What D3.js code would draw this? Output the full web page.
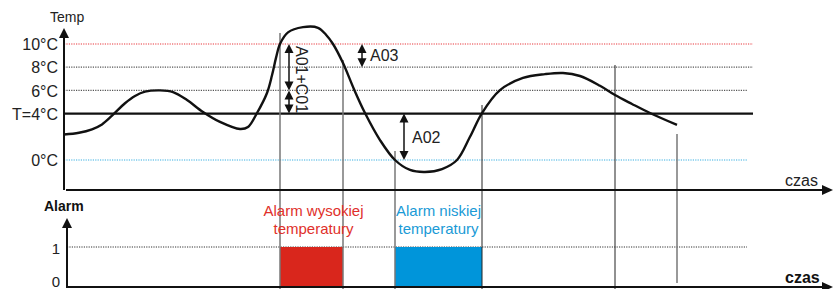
<!DOCTYPE html>
<html><head><meta charset="utf-8">
<script src="https://cdn.jsdelivr.net/npm/d3@7"></script>
<style>html,body{margin:0;padding:0;background:#fff;}svg{display:block;font-family:"Liberation Sans",Arial,sans-serif;}</style>
</head><body>
<svg id="c" width="834" height="289"></svg>
<script>
// ---- data ----
const tempTicks = [10, 8, 6, 4, 0];
const tempTickLabels = ["10°C", "8°C", "6°C", "T=4°C", "0°C"];
const curveTime = [0, 15, 28, 38, 48, 61, 71, 81, 96, 109, 123, 139, 156, 176, 184, 193, 203, 208, 212, 216, 224, 239, 254, 262, 269, 279, 290, 301, 316, 331, 346, 361, 378, 393, 406, 418, 436, 459, 481, 499, 516, 536, 551, 568, 586, 613];
const curveTemp = [2.2, 2.35, 2.65, 3.07, 3.82, 4.89, 5.52, 5.89, 6.0, 5.86, 5.17, 4.14, 3.28, 2.67, 2.84, 4.05, 5.78, 7.3, 8.8, 10.0, 11.0, 11.45, 11.4, 10.8, 10.0, 8.36, 6.1, 4.05, 1.72, 0, -0.86, -1.03, -0.78, 0, 2.0, 4.05, 6.03, 7.07, 7.4, 7.5, 7.24, 6.4, 5.6, 4.83, 4.05, 3.02];
const markerTime = [216, 279, 331, 418, 551, 613];
const markerTopTemp = [10.95, 8.62, 0.78, 4.74, 8.19, 2.24];
const alarmHigh = [216, 279];
const alarmLow = [331, 418];
const alarmTicks = [1, 0];
const arrowDefs = [ // [time, fromTemp, toTemp, label]
  [225, 10, 6, ""],
  [225, 6, 4, ""],
  [298, 10, 8, "A03"],
  [340, 4, 0, "A02"]
];

// ---- scales ----
const svg = d3.select("#c");
const x = d3.scaleLinear().domain([0, 770]).range([64, 834]);
const yT = d3.scaleLinear().domain([0, 10]).range([160, 44]);
const yA = d3.scaleLinear().domain([0, 1]).range([287, 247]);

const refStyle = {
  10: {c: "#e8383c", end: 689},
  8: {c: "#555", end: 689},
  6: {c: "#555", end: 683},
  0: {c: "#38aee2", end: 683}
};

// reference dotted lines
[10, 8, 6, 0].forEach(v => {
  svg.append("line").attr("x1", x(0)).attr("x2", x(refStyle[v].end))
    .attr("y1", yT(v)).attr("y2", yT(v))
    .attr("stroke", refStyle[v].c).attr("stroke-width", 1.2)
    .attr("stroke-dasharray", "1.2,1.2");
});
// T=4 solid
svg.append("line").attr("x1", x(0)).attr("x2", x(689))
  .attr("y1", yT(4)).attr("y2", yT(4)).attr("stroke", "#111").attr("stroke-width", 2.2);

// alarm level 1 dotted
svg.append("line").attr("x1", x(3)).attr("x2", x(683))
  .attr("y1", yA(1)).attr("y2", yA(1))
  .attr("stroke", "#333").attr("stroke-width", 1).attr("stroke-dasharray", "1.2,1.2");

// alarm rects
svg.append("rect").attr("x", x(alarmHigh[0])).attr("y", yA(1))
  .attr("width", x(alarmHigh[1]) - x(alarmHigh[0])).attr("height", yA(0) - yA(1))
  .attr("fill", "#d9261c");
svg.append("rect").attr("x", x(alarmLow[0])).attr("y", yA(1))
  .attr("width", x(alarmLow[1]) - x(alarmLow[0])).attr("height", yA(0) - yA(1))
  .attr("fill", "#0095da");

// vertical marker lines
const markerColor = ["#777", "#777", "#777", "#222", "#222", "#777"];
const markerBottom = [289, 289, 289, 289, 289, 283];
markerTime.forEach((t, i) => {
  svg.append("line").attr("x1", x(t)).attr("x2", x(t))
    .attr("y1", yT(markerTopTemp[i])).attr("y2", markerBottom[i])
    .attr("stroke", markerColor[i]).attr("stroke-width", i === 3 || i === 4 ? 1 : 1.5);
});

// temperature curve
const pts = curveTime.map((t, i) => [t, curveTemp[i]]);
svg.append("path").datum(pts)
  .attr("d", d3.line().x(d => x(d[0])).y(d => yT(d[1])).curve(d3.curveCatmullRom.alpha(0.5)))
  .attr("fill", "none").attr("stroke", "#111").attr("stroke-width", 2.4);

// axes lines with arrows
function arrowHead(xt, yt, dir, len, half) {
  let p;
  if (dir === "up") p = [[xt, yt], [xt - half, yt + len], [xt + half, yt + len]];
  else if (dir === "down") p = [[xt, yt], [xt - half, yt - len], [xt + half, yt - len]];
  else p = [[xt, yt], [xt - len, yt - half], [xt - len, yt + half]];
  svg.append("path").attr("d", "M" + p.join("L") + "Z").attr("fill", "#111");
}
// top chart
svg.append("line").attr("x1", 64).attr("x2", 64).attr("y1", 36).attr("y2", 190).attr("stroke", "#111").attr("stroke-width", 2);
arrowHead(64, 28, "up", 10, 5);
svg.append("line").attr("x1", 66).attr("x2", 823).attr("y1", 190).attr("y2", 190).attr("stroke", "#111").attr("stroke-width", 2);
arrowHead(833, 190, "right", 11, 5);
// bottom chart
svg.append("line").attr("x1", 67).attr("x2", 67).attr("y1", 226).attr("y2", 288).attr("stroke", "#111").attr("stroke-width", 2);
arrowHead(67, 218, "up", 10, 5);
svg.append("line").attr("x1", 67).attr("x2", 823).attr("y1", 287).attr("y2", 287).attr("stroke", "#111").attr("stroke-width", 2);
arrowHead(833, 287, "right", 11, 5);

// y axis tick labels (temperature)
const axT = d3.axisLeft(yT).tickValues(tempTicks).tickSize(0).tickPadding(0)
  .tickFormat((d, i) => tempTickLabels[i]);
const gT = svg.append("g").attr("transform", "translate(58,0)").call(axT);
gT.select(".domain").remove();
gT.selectAll("text").attr("font-size", 16).attr("fill", "#222").attr("font-family", "Liberation Sans, Arial, sans-serif").attr("dy", "0.36em");

const axA = d3.axisLeft(yA).tickValues(alarmTicks).tickSize(0).tickPadding(0).tickFormat(d3.format("d"));
const gA = svg.append("g").attr("transform", "translate(60,0)").call(axA);
gA.select(".domain").remove();
gA.selectAll("text").attr("font-size", 15).attr("fill", "#222").attr("font-family", "Liberation Sans, Arial, sans-serif")
  .attr("dy", d => d === 0 ? "-0.05em" : "0.45em");

// double arrows
arrowDefs.forEach(a => {
  const xp = x(a[0]);
  const y1 = yT(a[1]), y2 = yT(a[2]);
  const top = Math.min(y1, y2), bot = Math.max(y1, y2);
  svg.append("line").attr("x1", xp).attr("x2", xp).attr("y1", top + 6).attr("y2", bot - 6)
    .attr("stroke", "#111").attr("stroke-width", 1.5);
  arrowHead(xp, top, "up", 9, 4.5);
  arrowHead(xp, bot, "down", 9, 4.5);
  if (a[3]) {
    svg.append("text").attr("x", xp + 8).attr("y", (top + bot) / 2).attr("dy", "0.36em")
      .attr("font-size", 16).attr("fill", "#222").text(a[3]);
  }
});
// rotated label A01+C01
svg.append("text").attr("transform", `translate(${x(232)},${yT(10) + 2}) rotate(90)`)
  .attr("font-size", 16).attr("fill", "#222").text("A01+C01");

// titles
svg.append("text").attr("x", 50).attr("y", 22).attr("font-size", 14).attr("fill", "#222").text("Temp");
svg.append("text").attr("x", 785).attr("y", 186).attr("font-size", 16).attr("fill", "#222").text("czas");
svg.append("text").attr("x", 44).attr("y", 211).attr("font-size", 14).attr("font-weight", "bold").attr("fill", "#111").text("Alarm");
svg.append("text").attr("x", 785).attr("y", 283).attr("font-size", 16).attr("font-weight", "bold").attr("fill", "#111").text("czas");

// alarm labels
const hiC = (x(alarmHigh[0]) + x(alarmHigh[1])) / 2;
const loC = (x(alarmLow[0]) + x(alarmLow[1])) / 2;
[["Alarm wysokiej", 216], ["temperatury", 234]].forEach(l => {
  svg.append("text").attr("x", hiC + 2).attr("y", l[1]).attr("text-anchor", "middle")
    .attr("font-size", 15).attr("fill", "#e0302a").text(l[0]);
});
[["Alarm niskiej", 216], ["temperatury", 234]].forEach(l => {
  svg.append("text").attr("x", loC).attr("y", l[1]).attr("text-anchor", "middle")
    .attr("font-size", 15).attr("fill", "#1a9ad6").text(l[0]);
});
</script>
</body></html>
